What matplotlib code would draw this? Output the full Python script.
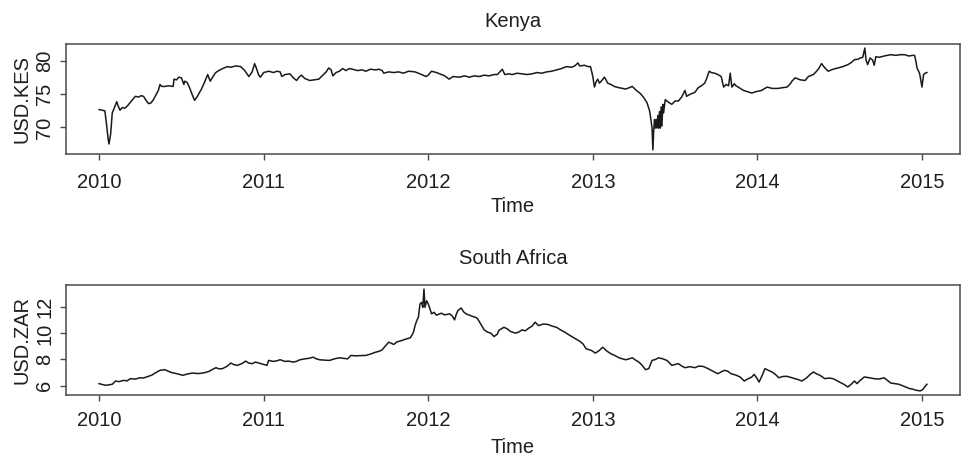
import matplotlib
matplotlib.use("Agg")
import matplotlib.pyplot as plt

plt.rcParams["font.family"] = ["Liberation Sans", "DejaVu Sans"]

# Exchange-rate series (decimal year, units of local currency per USD)
kes_time = [
    2010.00, 2010.02, 2010.035, 2010.045, 2010.055, 2010.06, 2010.07, 2010.08, 2010.09, 2010.107,
    2010.115, 2010.127, 2010.14, 2010.155, 2010.17, 2010.19, 2010.21, 2010.22, 2010.24, 2010.255,
    2010.27, 2010.285, 2010.30, 2010.315, 2010.33, 2010.345, 2010.36, 2010.37, 2010.38, 2010.40,
    2010.42, 2010.45, 2010.455, 2010.47, 2010.485, 2010.50, 2010.515, 2010.52, 2010.535, 2010.55,
    2010.565, 2010.58, 2010.595, 2010.61, 2010.62, 2010.64, 2010.66, 2010.675, 2010.69, 2010.705,
    2010.72, 2010.75, 2010.78, 2010.80, 2010.83, 2010.86, 2010.885, 2010.91, 2010.93, 2010.945,
    2010.955, 2010.97, 2010.98, 2011.00, 2011.03, 2011.06, 2011.08, 2011.10, 2011.11, 2011.13,
    2011.16, 2011.18, 2011.20, 2011.215, 2011.23, 2011.25, 2011.28, 2011.31, 2011.335, 2011.36,
    2011.38, 2011.395, 2011.41, 2011.42, 2011.44, 2011.46, 2011.48, 2011.50, 2011.52, 2011.54,
    2011.57, 2011.60, 2011.62, 2011.65, 2011.68, 2011.70, 2011.72, 2011.73, 2011.76, 2011.79,
    2011.82, 2011.85, 2011.88, 2011.92, 2011.95, 2011.986, 2012.00, 2012.02, 2012.05, 2012.07,
    2012.10, 2012.127, 2012.15, 2012.19, 2012.22, 2012.25, 2012.28, 2012.31, 2012.34, 2012.37,
    2012.40, 2012.42, 2012.45, 2012.465, 2012.49, 2012.51, 2012.54, 2012.57, 2012.60, 2012.63,
    2012.66, 2012.69, 2012.72, 2012.75, 2012.78, 2012.81, 2012.84, 2012.87, 2012.89, 2012.91,
    2012.92, 2012.95, 2012.97, 2012.986, 2013.00, 2013.01, 2013.02, 2013.03, 2013.04, 2013.055,
    2013.07, 2013.08, 2013.09, 2013.11, 2013.13, 2013.16, 2013.18, 2013.20, 2013.22, 2013.24,
    2013.26, 2013.28, 2013.29, 2013.31, 2013.33, 2013.345, 2013.35, 2013.36, 2013.365, 2013.37,
    2013.375, 2013.38, 2013.385, 2013.39, 2013.395, 2013.40, 2013.405, 2013.41, 2013.415, 2013.42,
    2013.425, 2013.43, 2013.44, 2013.46, 2013.48, 2013.50, 2013.52, 2013.54, 2013.56, 2013.57,
    2013.59, 2013.62, 2013.64, 2013.66, 2013.68, 2013.695, 2013.707, 2013.72, 2013.74, 2013.76,
    2013.78, 2013.795, 2013.81, 2013.825, 2013.835, 2013.845, 2013.86, 2013.87, 2013.89, 2013.915,
    2013.94, 2013.966, 2013.99, 2014.026, 2014.045, 2014.06, 2014.09, 2014.127, 2014.15, 2014.18,
    2014.20, 2014.21, 2014.23, 2014.26, 2014.29, 2014.31, 2014.34, 2014.36, 2014.375, 2014.39,
    2014.41, 2014.43, 2014.46, 2014.49, 2014.52, 2014.55, 2014.57, 2014.59, 2014.61, 2014.625,
    2014.64, 2014.653, 2014.66, 2014.67, 2014.685, 2014.70, 2014.71, 2014.72, 2014.74, 2014.77,
    2014.79, 2014.81, 2014.84, 2014.87, 2014.895, 2014.92, 2014.945, 2014.955, 2014.965, 2014.97,
    2014.985, 2014.99, 2015.00, 2015.005, 2015.01, 2015.02, 2015.03,
]
kes_rate = [
    72.7, 72.6, 72.5, 70.5, 68.2, 67.5, 69.0, 72.2, 72.8, 73.9,
    73.3, 72.6, 73.0, 72.9, 73.2, 73.8, 74.4, 74.7, 74.6, 74.8,
    74.7, 74.1, 73.6, 73.7, 74.2, 74.9, 75.6, 76.5, 76.2, 76.2,
    76.3, 76.2, 77.3, 77.2, 77.6, 77.5, 76.5, 77.0, 76.8, 76.0,
    75.0, 74.1, 74.6, 75.3, 75.7, 76.8, 78.0, 77.0, 77.6, 78.2,
    78.5, 78.9, 79.2, 79.1, 79.3, 79.2, 78.6, 77.7, 78.4, 79.65,
    79.0, 77.9, 77.6, 78.3, 78.5, 78.3, 78.5, 78.4, 77.7, 78.0,
    78.1, 77.5, 77.1, 77.6, 77.9, 77.4, 77.1, 77.2, 77.3, 77.9,
    78.4, 79.0, 78.7, 77.8, 78.3, 78.5, 78.9, 78.6, 78.9, 78.8,
    78.6, 78.7, 78.5, 78.8, 78.7, 78.8, 78.6, 78.2, 78.4, 78.3,
    78.4, 78.2, 78.5, 78.4, 78.1, 77.7, 77.9, 78.5, 78.3, 78.1,
    77.8, 77.3, 77.7, 77.6, 77.8, 77.6, 77.8, 77.7, 77.9, 77.8,
    78.0, 78.0, 78.8, 78.0, 78.1, 78.0, 78.2, 78.1, 78.0, 78.1,
    78.3, 78.2, 78.4, 78.5, 78.7, 78.9, 79.2, 79.1, 79.3, 79.75,
    79.3, 79.4, 79.2, 79.2, 77.7, 76.1, 76.9, 77.3, 76.7, 77.1,
    77.6, 77.2, 76.7, 76.5, 76.2, 76.0, 75.9, 75.8, 76.0, 76.2,
    75.7, 75.3, 75.1, 74.5, 73.7, 72.5, 71.7, 69.9, 66.6, 69.5,
    71.2, 69.9, 71.2, 69.9, 71.8, 69.9, 72.4, 69.9, 73.1, 70.2,
    73.5, 72.2, 74.2, 73.8, 73.5, 74.0, 74.0, 74.6, 75.6, 74.7,
    75.0, 75.3, 76.0, 76.3, 76.7, 77.6, 78.5, 78.3, 78.2, 78.0,
    77.7, 76.1, 76.5, 76.3, 78.2, 76.1, 76.6, 76.3, 76.0, 75.6,
    75.4, 75.2, 75.4, 75.6, 75.9, 76.1, 75.9, 75.9, 76.0, 76.1,
    76.6, 77.0, 77.5, 77.2, 77.1, 77.7, 78.0, 78.5, 79.0, 79.65,
    79.0, 78.5, 78.8, 79.0, 79.2, 79.5, 79.8, 80.25, 80.3, 80.5,
    80.6, 82.0, 80.2, 79.5, 80.5, 80.2, 79.4, 80.7, 80.6, 80.8,
    80.9, 81.0, 80.9, 81.0, 81.0, 80.8, 80.9, 80.9, 79.8, 79.0,
    78.2, 77.6, 76.1, 77.0, 78.0, 78.2, 78.3,
]

zar_time = [
    2010.00, 2010.02, 2010.04, 2010.06, 2010.08, 2010.10, 2010.12, 2010.15, 2010.17, 2010.19,
    2010.22, 2010.25, 2010.27, 2010.30, 2010.32, 2010.34, 2010.37, 2010.40, 2010.42, 2010.44,
    2010.47, 2010.49, 2010.51, 2010.54, 2010.57, 2010.60, 2010.63, 2010.65, 2010.67, 2010.69,
    2010.71, 2010.73, 2010.75, 2010.78, 2010.80, 2010.82, 2010.84, 2010.87, 2010.89, 2010.91,
    2010.93, 2010.95, 2010.97, 2011.00, 2011.02, 2011.03, 2011.06, 2011.08, 2011.10, 2011.13,
    2011.15, 2011.18, 2011.20, 2011.22, 2011.25, 2011.28, 2011.30, 2011.32, 2011.34, 2011.37,
    2011.40, 2011.43, 2011.46, 2011.49, 2011.51, 2011.53, 2011.56, 2011.59, 2011.62, 2011.65,
    2011.68, 2011.70, 2011.72, 2011.74, 2011.76, 2011.78, 2011.79, 2011.81, 2011.84, 2011.86,
    2011.89, 2011.90, 2011.91, 2011.92, 2011.93, 2011.94, 2011.95, 2011.96, 2011.967, 2011.974,
    2011.98, 2011.99, 2012.00, 2012.01, 2012.02, 2012.035, 2012.05, 2012.06, 2012.08, 2012.10,
    2012.13, 2012.145, 2012.16, 2012.17, 2012.18, 2012.20, 2012.215, 2012.23, 2012.25, 2012.27,
    2012.29, 2012.30, 2012.32, 2012.34, 2012.36, 2012.38, 2012.40, 2012.42, 2012.43, 2012.46,
    2012.48, 2012.50, 2012.53, 2012.55, 2012.57, 2012.59, 2012.61, 2012.63, 2012.65, 2012.67,
    2012.70, 2012.73, 2012.755, 2012.78, 2012.80, 2012.83, 2012.86, 2012.895, 2012.92, 2012.94,
    2012.96, 2012.99, 2013.016, 2013.04, 2013.06, 2013.085, 2013.11, 2013.135, 2013.16, 2013.18,
    2013.20, 2013.22, 2013.24, 2013.26, 2013.28, 2013.30, 2013.32, 2013.34, 2013.36, 2013.38,
    2013.40, 2013.425, 2013.45, 2013.465, 2013.48, 2013.50, 2013.52, 2013.54, 2013.56, 2013.59,
    2013.62, 2013.645, 2013.67, 2013.70, 2013.73, 2013.745, 2013.76, 2013.78, 2013.80, 2013.82,
    2013.84, 2013.87, 2013.895, 2013.92, 2013.94, 2013.966, 2013.98, 2013.995, 2014.01, 2014.03,
    2014.046, 2014.07, 2014.09, 2014.11, 2014.13, 2014.155, 2014.18, 2014.205, 2014.23, 2014.25,
    2014.27, 2014.30, 2014.32, 2014.34, 2014.36, 2014.38, 2014.41, 2014.435, 2014.46, 2014.48,
    2014.50, 2014.525, 2014.55, 2014.57, 2014.59, 2014.605, 2014.625, 2014.65, 2014.68, 2014.71,
    2014.74, 2014.77, 2014.79, 2014.81, 2014.835, 2014.86, 2014.89, 2014.925, 2014.945, 2014.965,
    2014.99, 2015.005, 2015.016, 2015.03,
]
zar_rate = [
    6.15, 6.08, 6.02, 6.06, 6.10, 6.35, 6.30, 6.40, 6.36, 6.53,
    6.50, 6.60, 6.58, 6.71, 6.80, 6.96, 7.17, 7.22, 7.10, 7.00,
    6.92, 6.85, 6.79, 6.90, 6.96, 6.92, 6.96, 7.02, 7.10, 7.25,
    7.37, 7.28, 7.30, 7.50, 7.73, 7.60, 7.55, 7.70, 7.88, 7.72,
    7.68, 7.80, 7.73, 7.62, 7.55, 7.93, 7.85, 7.90, 7.98, 7.85,
    7.88, 7.80, 7.86, 7.98, 8.05, 8.10, 8.18, 8.05, 7.98, 7.95,
    7.93, 8.05, 8.13, 8.08, 8.05, 8.31, 8.28, 8.30, 8.31, 8.42,
    8.56, 8.62, 8.74, 9.05, 9.33, 9.22, 9.15, 9.35, 9.46, 9.55,
    9.66, 9.85, 10.09, 10.60, 10.98, 11.24, 12.26, 12.38, 12.00, 13.40,
    12.00, 12.50, 12.26, 11.90, 11.50, 11.62, 11.40, 11.45, 11.55, 11.42,
    11.50, 11.35, 11.04, 11.45, 11.75, 11.95, 11.65, 11.50, 11.40, 11.30,
    11.22, 11.12, 10.70, 10.27, 10.10, 10.02, 9.76, 9.95, 10.25, 10.47,
    10.35, 10.15, 10.02, 10.10, 10.27, 10.20, 10.40, 10.55, 10.86, 10.60,
    10.72, 10.68, 10.55, 10.47, 10.30, 10.09, 9.85, 9.59, 9.40, 9.20,
    8.82, 8.70, 8.49, 8.70, 8.94, 8.65, 8.44, 8.30, 8.13, 8.05,
    7.98, 8.05, 8.13, 7.95, 7.80, 7.55, 7.22, 7.30, 7.93, 8.00,
    8.13, 8.05, 7.93, 7.75, 7.55, 7.62, 7.68, 7.50, 7.37, 7.45,
    7.37, 7.50, 7.47, 7.30, 7.10, 7.00, 6.91, 7.05, 7.17, 7.10,
    6.91, 6.80, 6.66, 6.35, 6.50, 6.66, 6.86, 6.60, 6.27, 6.80,
    7.30, 7.15, 7.04, 6.85, 6.60, 6.70, 6.71, 6.62, 6.53, 6.45,
    6.35, 6.60, 6.85, 7.04, 6.90, 6.79, 6.53, 6.58, 6.53, 6.40,
    6.27, 6.10, 5.89, 6.10, 6.35, 6.15, 6.40, 6.66, 6.60, 6.53,
    6.50, 6.60, 6.40, 6.20, 6.15, 6.10, 5.95, 5.77, 5.72, 5.64,
    5.59, 5.70, 5.89, 6.10,
]

year_ticks = [2010, 2011, 2012, 2013, 2014, 2015]
kes_ticks = [70, 75, 80]
zar_ticks = [6, 8, 10, 12]

W, H = 968, 457
fig = plt.figure(figsize=(W / 100, H / 100), dpi=100)

TXT = "#1f1f1f"
LINE = "#1a1a1a"
FRAME = "#4a4a4a"
FS = 14.5


def panel(rect, t, v, yticks, ylabel, title, title_pad, xtick_pad, xlabel_pad):
    ax = fig.add_axes(rect)
    ax.plot(t, v, color=LINE, lw=1.1)
    ax.margins(x=0.04, y=0.04)
    ax.set_xticks(year_ticks)
    ax.set_xticklabels([str(y) for y in year_ticks])
    ax.set_yticks(yticks)
    ax.set_yticklabels([str(y) for y in yticks], rotation=90, va="center")
    for s in ax.spines.values():
        s.set_color(FRAME)
        s.set_linewidth(1.1)
    ax.tick_params(axis="both", direction="out", length=4.3, width=1.0,
                   color=FRAME, labelcolor=TXT, labelsize=FS)
    ax.tick_params(axis="x", pad=xtick_pad)
    ax.tick_params(axis="y", pad=4)
    ax.set_ylabel(ylabel, fontsize=FS, color=TXT, labelpad=3)
    ax.set_xlabel("Time", fontsize=FS, color=TXT, labelpad=xlabel_pad)
    ax.set_title(title, fontsize=FS, color=TXT, pad=title_pad)
    return ax


left = 66 / W
width = (960 - 66) / W
h = 110 / H
panel([left, 1 - 154 / H, width, h], kes_time, kes_rate, kes_ticks,
      "USD.KES", "Kenya", 12, 9.5, 3.5)
panel([left, 1 - 395 / H, width, h], zar_time, zar_rate, zar_ticks,
      "USD.ZAR", "South Africa", 15, 7.5, 5.5)

fig.savefig("out.png", dpi=100)
